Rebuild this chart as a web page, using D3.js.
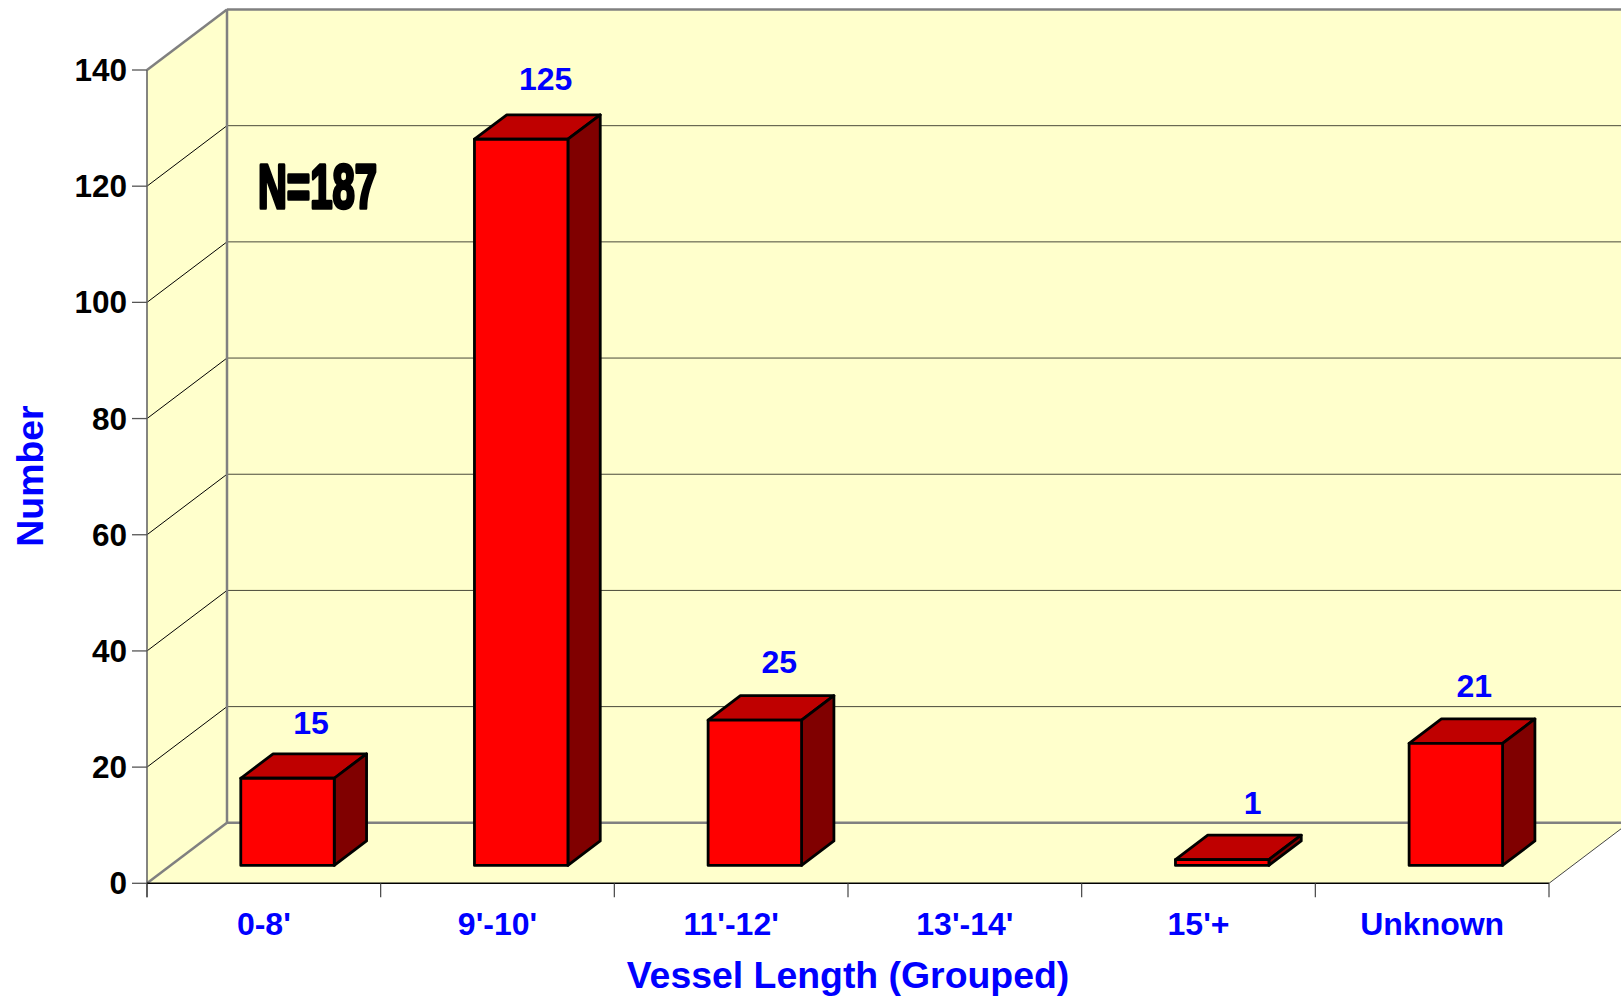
<!DOCTYPE html>
<html>
<head>
<meta charset="utf-8">
<script src="https://cdnjs.cloudflare.com/ajax/libs/d3/7.8.5/d3.min.js"></script>
<style>
html,body{margin:0;padding:0;background:#fff;overflow:hidden}
svg{display:block}
text{font-family:"Liberation Sans",Arial,sans-serif;font-weight:700}
</style>
</head>
<body>
<svg id="c" width="1621" height="999"></svg>
<script>
const categories = ["0-8'", "9'-10'", "11'-12'", "13'-14'", "15'+", "Unknown"];
const values = [15, 125, 25, null, 1, 21];
const yTicks = [0, 20, 40, 60, 80, 100, 120, 140];
const xTitle = "Vessel Length (Grouped)";
const yTitle = "Number";
const note = "N=187";

const svg = d3.select("#c");
const x0 = 147, x1 = 1549, y0 = 883.3, yTop = 70;
const backDx = 80, backDy = -60.5;
const x = d3.scaleBand().domain(categories).range([x0, x1]).paddingInner(0.6).paddingOuter(0.3);
const xFull = d3.scaleBand().domain(categories).range([x0, x1]);
const y = d3.scaleLinear().domain([0, 140]).range([y0, yTop]);
const line = d3.line();
const poly = (pts, fill, stroke, sw) => svg.append("path")
  .attr("d", line(pts) + "Z").attr("fill", fill)
  .attr("stroke", stroke || "none").attr("stroke-width", sw || 0).attr("stroke-linejoin", "round");
const seg = (a, b, stroke, sw) => svg.append("line")
  .attr("x1", a[0]).attr("y1", a[1]).attr("x2", b[0]).attr("y2", b[1])
  .attr("stroke", stroke).attr("stroke-width", sw);

const wall = "#FFFFCC", grey = "#808080";
const yMax = y(140), yMin = y(0);
// back wall, left wall and floor
poly([[x0 + backDx, yMax + backDy], [x1 + backDx, yMax + backDy], [x1 + backDx, yMin + backDy], [x0 + backDx, yMin + backDy]], wall);
poly([[x0, yMax], [x0 + backDx, yMax + backDy], [x0 + backDx, yMin + backDy], [x0, yMin]], wall);
poly([[x0, yMin], [x0 + backDx, yMin + backDy], [x1 + backDx, yMin + backDy], [x1, yMin]], wall);

// gridlines
yTicks.slice(1, -1).forEach(t => {
  seg([x0, y(t)], [x0 + backDx, y(t) + backDy], "#000", 1);
  seg([x0 + backDx, y(t) + backDy], [x1 + backDx, y(t) + backDy], "#4a4a3a", 1);
});
// wall edges
seg([x0 + backDx, yMax + backDy], [x1 + backDx, yMax + backDy], grey, 2.5);
seg([x0, yMax], [x0 + backDx, yMax + backDy], grey, 2.5);
seg([x0 + backDx, yMax + backDy], [x0 + backDx, yMin + backDy], grey, 2.5);
seg([x0, yMin], [x0 + backDx, yMin + backDy], grey, 2.5);
seg([x0 + backDx, yMin + backDy], [x1 + backDx, yMin + backDy], grey, 2.5);
seg([x1, yMin], [x1 + backDx, yMin + backDy], "#444", 1);
seg([x0, yMax], [x0, yMin + 14], "#666", 1.6);

// axis lines and ticks
seg([x0, yMin], [x1, yMin], "#000", 1.6);
yTicks.forEach(t => seg([x0 - 15, y(t)], [x0, y(t)], "#555", 1.3));
categories.forEach(c => seg([xFull(c), yMin], [xFull(c), yMin + 14], "#444", 1.2));
seg([x1, yMin], [x1, yMin + 14], "#444", 1.2);

// y tick labels
svg.selectAll(".yl").data(yTicks).join("text")
  .attr("x", 127).attr("y", d => y(d) + 11).attr("text-anchor", "end")
  .attr("font-size", 31.5).attr("fill", "#000").text(d => d);

// bars: the front face sits 30% into the depth, 40% deep
const fOff = [backDx * 0.296, backDy * 0.296];
const dOff = [backDx * 0.404, backDy * 0.404];
// small per-label placement corrections [dx, dy], keyed by category
const labelNudge = new Map([["0-8'", [0, 1]], ["9'-10'", [1, -1]], ["11'-12'", [1, -1]], ["15'+", [7, -1]], ["Unknown", [-5, -1]]]);
const bars = categories.map((c, i) => ({c, v: values[i]})).filter(d => d.v != null);
bars.forEach(d => {
  const l = x(d.c) + fOff[0], r = l + x.bandwidth();
  const b = y(0) + fOff[1], t = y(d.v) + fOff[1];
  const bk = p => [p[0] + dOff[0], p[1] + dOff[1]];
  poly([[l, t], [r, t], bk([r, t]), bk([l, t])], "#BF0000", "#000", 2.8);
  poly([[r, t], bk([r, t]), bk([r, b]), [r, b]], "#800000", "#000", 2.8);
  poly([[l, t], [r, t], [r, b], [l, b]], "#FF0000", "#000", 2.8);
  const n = labelNudge.get(d.c);
  svg.append("text")
    .attr("x", (l + r) / 2 + 23.5 + n[0])
    .attr("y", t + dOff[1] - 20.5 - d.v * 0.03 + n[1])
    .attr("text-anchor", "middle").attr("font-size", 32).attr("fill", "#0000FF").text(d.v);
});

// category labels
svg.selectAll(".xl").data(categories).join("text")
  .attr("x", d => xFull(d) + xFull.bandwidth() / 2).attr("y", 935)
  .attr("text-anchor", "middle").attr("font-size", 32).attr("fill", "#0000FF").text(d => d);

// axis titles
svg.append("text").attr("x", (x0 + x1) / 2).attr("y", 988).attr("text-anchor", "middle")
  .attr("font-size", 37.4).attr("fill", "#0000FF").text(xTitle);
svg.append("text").attr("transform", "translate(43,476) rotate(-90)").attr("text-anchor", "middle")
  .attr("font-size", 37.4).attr("fill", "#0000FF").text(yTitle);

// annotation
svg.append("text").attr("transform", "translate(258,208) scale(0.645,1.02)")
  .attr("font-size", 62).attr("fill", "#000").attr("stroke", "#000").attr("stroke-width", 3.6)
  .attr("stroke-linejoin", "round").text(note);
</script>
</body>
</html>
